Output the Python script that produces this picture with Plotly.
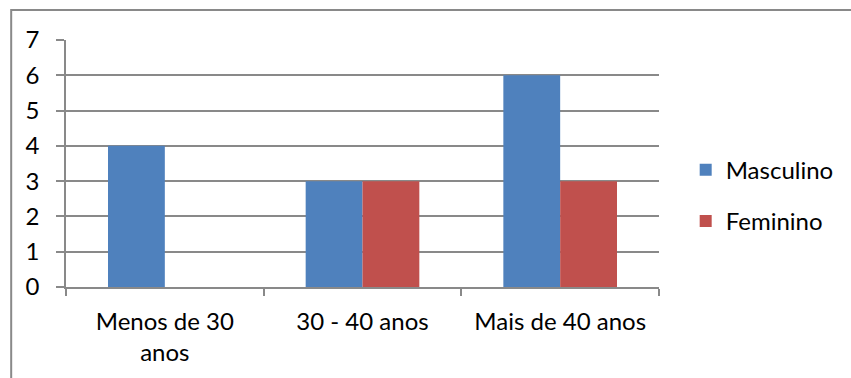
import plotly.graph_objects as go

categorias = ["Menos de 30<br>anos", "30 - 40 anos", "Mais de 40 anos"]
masculino = [4, 3, 6]
feminino = [0, 3, 3]
y_ticks = [0, 1, 2, 3, 4, 5, 6, 7]

cinza = "#898989"
fonte = "Lato, Open Sans, sans-serif"
tam = 24

fig = go.Figure()
fig.add_trace(go.Bar(x=categorias, y=masculino, name="Masculino",
                     marker=dict(color="#4F81BD", line=dict(width=0)),
                     legendgroup="m"))
fig.add_trace(go.Bar(x=categorias, y=feminino, name="Feminino",
                     marker=dict(color="#C0504D", line=dict(width=0)),
                     legendgroup="f"))

fig.update_layout(
    width=851, height=378,
    margin=dict(l=66, r=190, t=40, b=91),
    paper_bgcolor="white", plot_bgcolor="white",
    barmode="group", bargap=0.425, bargroupgap=0,
    font=dict(family=fonte, size=tam, color="#000000"),
    showlegend=True,
    legend=dict(x=1.045, y=0.37, xanchor="left", yanchor="middle",
                font=dict(size=tam), tracegroupgap=17,
                itemwidth=30, bgcolor="rgba(0,0,0,0)"),
    xaxis=dict(showline=True, linecolor=cinza, linewidth=1.5,
               ticks="outside", tickson="boundaries", ticklen=7,
               tickcolor=cinza, tickwidth=1.5, showgrid=False,
               ticklabelstandoff=12, tickfont=dict(size=tam)),
    yaxis=dict(range=[0, 7], tickvals=y_ticks, showline=True,
               linecolor=cinza, linewidth=1.5, ticks="outside", ticklen=8,
               tickcolor=cinza, tickwidth=1.5, showgrid=True,
               gridcolor=cinza, gridwidth=1.5, zeroline=False,
               ticklabelstandoff=12, tickfont=dict(size=tam)),
    shapes=[dict(type="rect", xref="paper", yref="paper",
                 x0=(11 - 66) / 595, x1=1.5, y0=-0.5, y1=(287 - 10) / 247,
                 line=dict(color=cinza, width=2), fillcolor="rgba(0,0,0,0)",
                 layer="below")],
)

fig.write_html("out.html")
